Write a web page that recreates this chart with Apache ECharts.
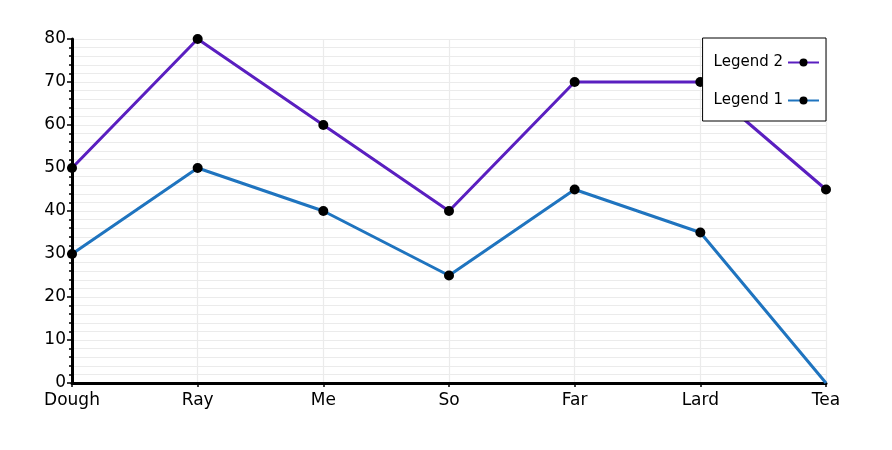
<!DOCTYPE html>
<html><head><meta charset="utf-8">
<script src="https://cdn.jsdelivr.net/npm/echarts@6/dist/echarts.min.js"></script>
<style>html,body{margin:0;padding:0;background:#fff}#c{width:892px;height:450px}</style>
</head><body><div id="c"></div>
<script>
const categories = ['Dough','Ray','Me','So','Far','Lard','Tea'];
const legend1 = [30,50,40,25,45,35,0];
const legend2 = [50,80,60,40,70,70,45];
const yTicks = [0,10,20,30,40,50,60,70,80];

const font = 'DejaVu Sans';
const chart = echarts.init(document.getElementById('c'));
chart.setOption({
  animation:false,
  backgroundColor:'#fff',
  grid:{left:72,right:66,top:39,bottom:67},
  legend:{
    orient:'vertical', right:66, top:38, align:'right',
    data:['Legend 2','Legend 1'],
    backgroundColor:'#fff', borderColor:'#000', borderWidth:1, borderRadius:0,
    padding:[17,6,13,11], itemGap:23, itemWidth:31, itemHeight:10,
    textStyle:{fontFamily:font,fontSize:15,color:'#000'}
  },
  xAxis:{
    type:'category', data:categories, boundaryGap:false,
    axisLine:{lineStyle:{color:'#000',width:3}},
    axisTick:{show:true,length:4,lineStyle:{color:'#000',width:1.5}},
    axisLabel:{fontFamily:font,fontSize:17,color:'#000',margin:9},
    splitLine:{show:true,lineStyle:{color:'#ebebeb',width:1.2}}
  },
  yAxis:{
    type:'value', min:0, max:80, interval:10,
    axisLine:{show:true,lineStyle:{color:'#000',width:3}},
    axisTick:{show:true,length:5,lineStyle:{color:'#000',width:1.5}},
    minorTick:{show:true,splitNumber:5,length:3,lineStyle:{color:'#000',width:1.5}},
    axisLabel:{fontFamily:font,fontSize:17,color:'#000',margin:6,
      formatter:v=>yTicks.includes(v)?String(v):''},
    splitLine:{show:true,lineStyle:{color:'#ebebeb',width:1.2}},
    minorSplitLine:{show:true,lineStyle:{color:'#ebebeb',width:1.2}}
  },
  series:[
    {name:'Legend 2',type:'line',data:legend2,symbol:'circle',symbolSize:10,
     lineStyle:{color:'#5a1fc0',width:3},itemStyle:{color:'#000'},z:3},
    {name:'Legend 1',type:'line',
     data:legend1.map((v,i)=>i===legend1.length-1?{value:v,symbol:'none'}:v),
     symbol:'circle',symbolSize:10,
     lineStyle:{color:'#1f74bf',width:3},itemStyle:{color:'#000'},z:4}
  ]
});
</script></body></html>
